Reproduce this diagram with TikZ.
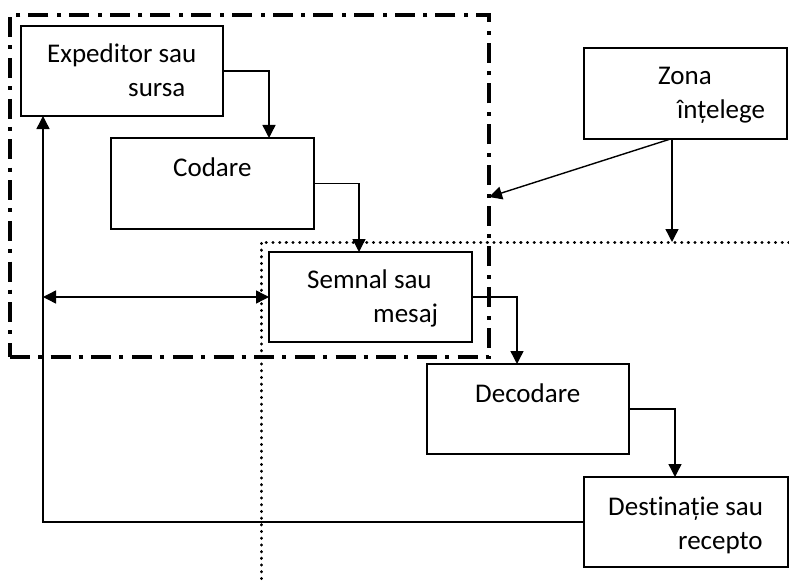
\documentclass[tikz,border=0pt]{standalone}
\usepackage{fontspec}
\setmainfont{Carlito}[Ligatures=NoCommon]
\usetikzlibrary{arrows.meta,calc}
\begin{document}
\begin{tikzpicture}[x=1pt,y=-1pt,
  box/.style={draw,line width=1.5pt,inner sep=0pt,outer sep=0pt,minimum width=203pt,minimum height=90pt},
  frame/.style={draw,line width=4pt,inner sep=0pt,outer sep=0pt,dash pattern=on 20pt off 8pt on 4pt off 8.7pt},
  dots/.style={line width=3pt,line cap=round,dash pattern=on 0.3pt off 6.4pt},
  txt/.style={anchor=base west,inner sep=0pt,font=\fontsize{27pt}{34pt}\selectfont},
  arr/.style={line width=1.4pt,-{Triangle[length=13pt,width=13pt]}},
  darr/.style={line width=1.4pt,{Triangle[length=13pt,width=13pt]}-{Triangle[length=13pt,width=13pt]}}]
\useasboundingbox (0,0) rectangle (789,583);
% dash-dot frame
\node[frame,minimum width=479pt,minimum height=342pt] (frm) at (249.5,186) {};
% dotted lines
\coordinate (dA) at (789,242);
\coordinate (dB) at (261,242);
\coordinate (dC) at (261,583);
\draw[dots] (dA) -- (dB) -- (dC);
% boxes
\node[box,minimum width=202pt] (exp) at (122,71) {};
\node[box,minimum height=91pt] (cod) at (212.5,183.5) {};
\node[box] (sem) at (370.5,297) {};
\node[box,minimum width=202pt] (dec) at (528,409) {};
\node[box,minimum width=204pt] (dest) at (686,522) {};
\node[box,minimum height=91pt] (zona) at (685.5,93.5) {};
% texts
\node[txt] (t1) at (47,63) {Expeditor sau};
\node[txt] (t2) at (128,97) {sursa};
\node[txt] (t3) at (173,176) {Codare};
\node[txt] (t4) at (307,288) {Semnal sau};
\node[txt] (t5) at (373,322) {mesaj};
\node[txt] (t6) at (475,402) {Decodare};
\node[txt] (t7) at (608,515) {Destinație sau};
\node[txt] (t8) at (678,549) {recepto};
\node[txt] (t9) at (658,85) {Zona};
\node[txt] (t10) at (677,119) {înțelege};
% connectors
\coordinate (retx) at ([xshift=22pt]exp.south west);
\draw[arr] (exp.east) -| ([xshift=158pt]cod.north west);
\draw[arr] (cod.east) -| ([xshift=90pt]sem.north west);
\draw[arr] (sem.east) -| ([xshift=90pt]dec.north west);
\draw[arr] (dec.east) -| ([xshift=91pt]dest.north west);
\draw[arr] (dest.west) -| (retx);
\draw[darr] (sem.west -| retx) -- (sem.west);
\draw[arr] ([xshift=-15pt]zona.south) -- ([yshift=-11pt]frm.east);
\draw[arr] ([xshift=-13.5pt]zona.south) -- ([xshift=-13.5pt]zona.south |- dB);
\end{tikzpicture}
\end{document}
